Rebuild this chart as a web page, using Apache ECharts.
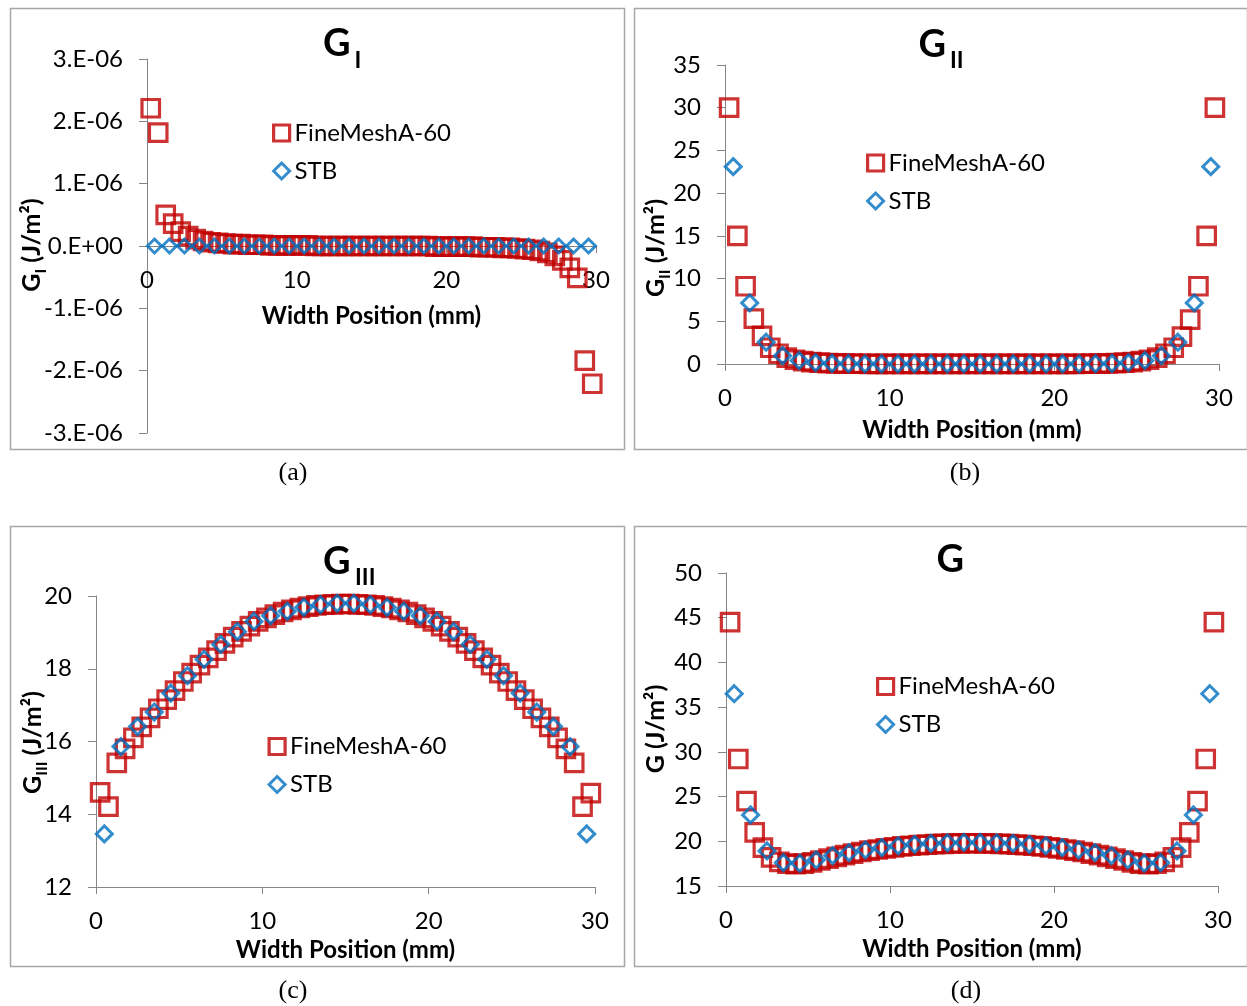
<!DOCTYPE html>
<html><head><meta charset="utf-8">
<script src="https://cdn.jsdelivr.net/npm/echarts@6/dist/echarts.min.js"></script>
<style>html,body{margin:0;padding:0;background:#fff}#c{width:1247px;height:1006px}</style>
</head><body><div id="c"></div>
<script>
// ---------- DATA ----------
const xFine = [0.25,0.75,1.25,1.75,2.25,2.75,3.25,3.75,4.25,4.75,5.25,5.75,6.25,6.75,7.25,7.75,8.25,8.75,9.25,9.75,
  10.25,10.75,11.25,11.75,12.25,12.75,13.25,13.75,14.25,14.75,15.25,15.75,16.25,16.75,17.25,17.75,18.25,18.75,19.25,19.75,
  20.25,20.75,21.25,21.75,22.25,22.75,23.25,23.75,24.25,24.75,25.25,25.75,26.25,26.75,27.25,27.75,28.25,28.75,29.25,29.75];
const xSTB = [0.5,1.5,2.5,3.5,4.5,5.5,6.5,7.5,8.5,9.5,10.5,11.5,12.5,13.5,14.5,
  15.5,16.5,17.5,18.5,19.5,20.5,21.5,22.5,23.5,24.5,25.5,26.5,27.5,28.5,29.5];

const gIFine = [2.21e-6,1.82e-6,0.50e-6,0.36e-6,0.23e-6,0.16e-6,0.11e-6,0.08e-6,0.06e-6,0.05e-6,
  0.04e-6,0.03e-6,0.03e-6,0.02e-6,0.02e-6,0.02e-6,0.01e-6,0.01e-6,0.01e-6,0.01e-6,
  0.01e-6,0.01e-6,0,0,0,0,0,0,0,0,
  0,0,0,0,0,0,0,0,-0.01e-6,-0.01e-6,
  -0.01e-6,-0.01e-6,-0.01e-6,-0.01e-6,-0.02e-6,-0.02e-6,-0.02e-6,-0.03e-6,-0.03e-6,-0.04e-6,
  -0.05e-6,-0.06e-6,-0.08e-6,-0.11e-6,-0.16e-6,-0.23e-6,-0.35e-6,-0.51e-6,-1.84e-6,-2.21e-6];
const gISTB = [0,0,0,0,0,0,0,0,0,0,0,0,0,0,0,0,0,0,0,0,0,0,0,0,0,0,0,0,0,0];

const gIIFine = [30.0,15.0,9.1,5.3,3.3,1.9,1.2,0.75,0.5,0.33,
  0.22,0.15,0.1,0.07,0.05,0.04,0.03,0.02,0.02,0.02,
  0.01,0.01,0.01,0.01,0.01,0.01,0.01,0.01,0.01,0.01,
  0.01,0.01,0.01,0.01,0.01,0.01,0.01,0.01,0.01,0.01,
  0.02,0.02,0.02,0.03,0.04,0.05,0.07,0.1,0.15,0.22,
  0.33,0.5,0.75,1.2,1.9,3.2,5.2,9.1,15.0,30.0];
const gIISTB = [23.1,7.15,2.55,0.98,0.4,0.16,0.07,0.03,0.02,0.01,0.01,0.01,0.01,0.01,0.01,
  0.01,0.01,0.01,0.01,0.01,0.01,0.02,0.03,0.07,0.16,0.4,0.98,2.55,7.15,23.1];

const gIIIFine = [14.6,14.21,15.41,15.8,16.1,16.4,16.65,16.9,17.15,17.4,
  17.65,17.88,18.1,18.3,18.5,18.7,18.87,19.03,19.17,19.3,
  19.4,19.49,19.56,19.62,19.67,19.71,19.74,19.76,19.77,19.78,
  19.78,19.77,19.76,19.74,19.71,19.67,19.62,19.56,19.49,19.4,
  19.3,19.17,19.03,18.87,18.7,18.5,18.3,18.1,17.88,17.65,
  17.4,17.15,16.9,16.65,16.4,16.1,15.8,15.41,14.21,14.58];
const gIIISTB = [13.46,15.86,16.41,16.81,17.33,17.81,18.26,18.67,19.02,19.3,19.46,19.58,19.69,19.76,19.8,
  19.8,19.76,19.69,19.58,19.46,19.3,19.02,18.67,18.26,17.81,17.33,16.81,16.41,15.86,13.46];

const gFine = [44.5,29.2,24.5,21.0,19.3,18.2,17.7,17.5,17.45,17.5,
  17.65,17.85,18.05,18.25,18.45,18.62,18.8,18.95,19.08,19.2,
  19.32,19.42,19.5,19.57,19.63,19.68,19.72,19.75,19.77,19.78,
  19.78,19.77,19.75,19.72,19.68,19.63,19.57,19.5,19.42,19.32,
  19.2,19.08,18.95,18.8,18.62,18.45,18.25,18.05,17.85,17.65,
  17.5,17.45,17.5,17.7,18.2,19.3,21.0,24.5,29.2,44.5];
const gSTB = [36.5,22.95,18.92,17.61,17.54,17.91,18.4,18.73,19.03,19.29,19.5,19.66,19.76,19.83,19.87,
  19.87,19.83,19.76,19.66,19.5,19.29,19.03,18.73,18.4,17.91,17.54,17.61,18.92,22.95,36.5];

const seriesNames = ['FineMeshA-60', 'STB'];
const yTicksA = [-3e-6,-2e-6,-1e-6,0,1e-6,2e-6,3e-6];
const yLabelsA = ['-3.E-06','-2.E-06','-1.E-06','0.E+00','1.E-06','2.E-06','3.E-06'];
const xAxisTitle = 'Width Position (mm)';
const captions = ['(a)', '(b)', '(c)', '(d)'];

// ---------- STYLE / LAYOUT ----------
const RED = '#C00000', BLUE = '#0070C0', AXIS = '#868686', FONT = 'Lato';
const grids = [
  {left:147, top:59, width:449, height:374},
  {left:725, top:65, width:494, height:299},
  {left:96, top:596, width:499, height:291},
  {left:726, top:573, width:492, height:313}
];
const nameGaps = [58, 54, 51, 51];
const yRanges = [
  {min:-3e-6, max:3e-6, interval:1e-6},
  {min:0, max:35, interval:5},
  {min:12, max:20, interval:2},
  {min:15, max:50, interval:5}
];
// panel (a): x axis crosses the symmetric y range at zero (middle of the grid)
const xOffsets = [-grids[0].height / 2, 0, 0, 0];

function zip(xs, ys) { return xs.map((x, i) => [x, ys[i]]); }

const xAxes = grids.map((g, i) => ({
  type:'value', gridIndex:i, min:0, max:30, interval:10, position:'bottom', offset: xOffsets[i],
  name: xAxisTitle, nameLocation:'middle', nameGap: nameGaps[i],
  nameTextStyle:{fontFamily:FONT, fontWeight:'bold', fontSize:24, color:'#000'},
  axisLine:{show:true, onZero:false, lineStyle:{color:AXIS, width:1}},
  axisTick:{show:true, length:7, lineStyle:{color:AXIS}},
  axisLabel:{fontFamily:FONT, fontSize:24, color:'#000', margin:22},
  splitLine:{show:false}
}));
const yAxes = yRanges.map((r, i) => ({
  type:'value', gridIndex:i, min:r.min, max:r.max, interval:r.interval,
  axisLine:{show:true, onZero:false, lineStyle:{color:AXIS, width:1}},
  axisTick:{show:true, length:8, lineStyle:{color:AXIS}},
  axisLabel:{fontFamily:FONT, fontSize:24, color:'#000', margin:24,
    formatter: i === 0 ? function (v) {
      for (let k = 0; k < yTicksA.length; k++) if (Math.abs(yTicksA[k] - v) < 1e-9) return yLabelsA[k];
      return '';
    } : null},
  splitLine:{show:false}
}));

const fineData = [gIFine, gIIFine, gIIIFine, gFine];
const stbData = [gISTB, gIISTB, gIIISTB, gSTB];
const series = [];
for (let i = 0; i < 4; i++) {
  series.push({
    type:'scatter', name:seriesNames[0], xAxisIndex:i, yAxisIndex:i,
    data: zip(xFine, fineData[i]), symbol:'rect', symbolSize:17.5,
    itemStyle:{color:'rgba(0,0,0,0)', borderColor:RED, borderWidth:3.2}, z:2
  });
  series.push({
    type:'scatter', name:seriesNames[1], xAxisIndex:i, yAxisIndex:i,
    data: zip(xSTB, stbData[i]), symbol:'diamond', symbolSize: i === 0 ? 14 : 16,
    itemStyle:{color:'rgba(0,0,0,0)', borderColor:BLUE, borderWidth:3}, z:3
  });
}

const legendPos = [[272,119], [866,149], [267.5,732.5], [876,672.5]];
const legends = legendPos.map(p => ({
  orient:'vertical', left:p[0], top:p[1], padding:0, itemWidth:16, itemHeight:16, itemGap:10,
  selectedMode:false,
  data: [{name:seriesNames[0], itemStyle:{borderWidth:3.2, borderColor:RED, color:'rgba(0,0,0,0)'}},
         {name:seriesNames[1], itemStyle:{borderWidth:3, borderColor:BLUE, color:'rgba(0,0,0,0)'}}],
  textStyle:{fontFamily:FONT, fontSize:24, color:'#000', lineHeight:28}
}));

// ---------- GRAPHIC TEXT ----------
const mctx = document.createElement('canvas').getContext('2d');
function tw(str, font) { mctx.font = font; return mctx.measureText(str).width; }
function txt(x, y, text, font, align) {
  return {type:'text', x:x, y:y, silent:true, style:{text:text, font:font, fill:'#000',
    textAlign:align || 'left', align:align || 'left', textVerticalAlign:'middle', verticalAlign:'middle'}};
}
function rotName(cx, cy, parts) {
  const fonts = parts.map(p => 'bold ' + p.size + 'px ' + FONT);
  const ws = parts.map((p, k) => tw(p.text, fonts[k]));
  const total = ws.reduce((a, b) => a + b, 0);
  let x = -total / 2;
  const children = parts.map((p, k) => { const el = txt(x, p.dy, p.text, fonts[k]); x += ws[k]; return el; });
  return {type:'group', x:cx, y:cy, rotation:Math.PI / 2, children:children};
}
const panels = [[10,8,614,441],[634,8,613,441],[10,526,614,440],[634,526,613,440]];
const graphics = [];
panels.forEach(p => graphics.push({type:'rect', silent:true, shape:{x:p[0]+0.5, y:p[1]+0.5, width:p[2], height:p[3]},
  style:{fill:'none', stroke:'#A6A6A6', lineWidth:1.5}, z:-1}));
// titles
const TF = 'bold 38px ' + FONT, SF = 'bold 23px ' + FONT;
graphics.push(txt(323, 44, 'G', TF), txt(354.5, 60.5, 'I', SF));
graphics.push(txt(918.5, 44.5, 'G', TF), txt(950, 60.5, 'II', SF));
graphics.push(txt(323, 562, 'G', TF), txt(355, 578, 'III', SF));
graphics.push(txt(936.5, 560, 'G', TF));
// y axis names
graphics.push(rotName(32, 245, [{text:'G', size:25, dy:0}, {text:'I', size:16, dy:9}, {text:' (J/m²)', size:25, dy:0}]));
graphics.push(rotName(656, 248, [{text:'G', size:25, dy:0}, {text:'II', size:16, dy:9}, {text:' (J/m²)', size:25, dy:0}]));
graphics.push(rotName(33, 742.5, [{text:'G', size:25, dy:0}, {text:'III', size:16, dy:9}, {text:' (J/m²)', size:25, dy:0}]));
graphics.push(rotName(656, 729, [{text:'G (J/m²)', size:25, dy:0}]));
// captions
const CF = '26px "Liberation Serif"';
graphics.push(txt(293, 473, captions[0], CF, 'center'), txt(965, 473, captions[1], CF, 'center'),
  txt(293, 991, captions[2], CF, 'center'), txt(966, 991, captions[3], CF, 'center'));

const chart = echarts.init(document.getElementById('c'), null, {renderer:'canvas'});
chart.setOption({
  animation:false, backgroundColor:'#fff',
  grid: grids, xAxis: xAxes, yAxis: yAxes, legend: legends, series: series, graphic: graphics
});
</script></body></html>
